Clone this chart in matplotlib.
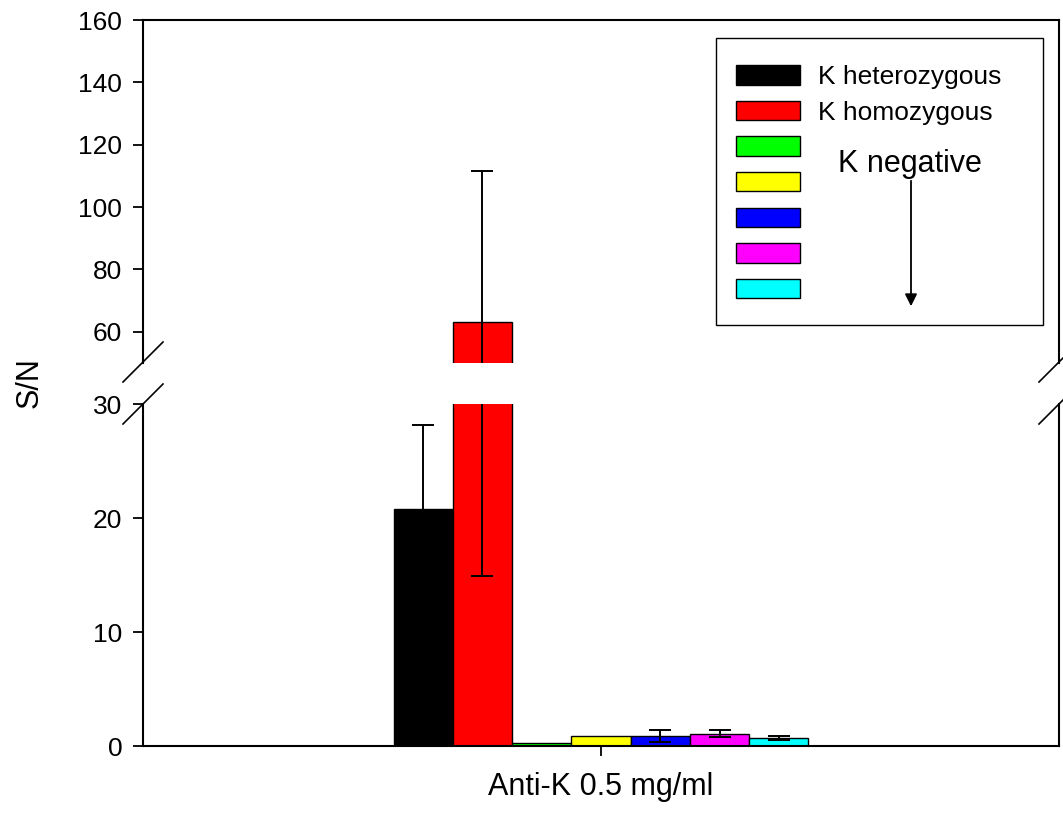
import matplotlib
matplotlib.use("Agg")
import matplotlib.pyplot as plt
from matplotlib.patches import Patch, Rectangle, FancyArrowPatch
from matplotlib.lines import Line2D
import numpy as np

plt.rcParams['font.family'] = ['Liberation Sans', 'DejaVu Sans']

# data
group_label = "Anti-K 0.5 mg/ml"
series = ["K heterozygous", "K homozygous", "neg 1", "neg 2", "neg 3", "neg 4", "neg 5"]
means = [20.8, 63.2, 0.30, 0.85, 0.85, 1.07, 0.72]
errors = [7.4, 48.3, 0.0, 0.0, 0.52, 0.30, 0.17]
colors = ["#000000", "#ff0000", "#00ff00", "#ffff00", "#0000ff", "#ff00ff", "#00ffff"]
upper_ticks = [60, 80, 100, 120, 140, 160]
lower_ticks = [0, 10, 20, 30]

W, H = 1063, 814
fig = plt.figure(figsize=(W / 100, H / 100), dpi=100)

left, right = 143 / W, 1059 / W
ax_top = fig.add_axes([left, 1 - 363 / H, right - left, (363 - 20) / H])
ax_bot = fig.add_axes([left, 1 - 746 / H, right - left, (746 - 404) / H])

n = len(means)
bw = 0.0647
xs = (np.arange(n) - (n - 1) / 2) * bw

for ax in (ax_top, ax_bot):
    ax.bar(xs, means, width=bw, color=colors, edgecolor="black", linewidth=1.0)
    m = np.array(errors) > 0
    ax.errorbar(xs[m], np.array(means)[m], yerr=np.array(errors)[m], fmt="none",
                ecolor="black", elinewidth=1.4, capsize=8, capthick=1.4)
    ax.set_xlim(-0.5, 0.5)
    for s in ax.spines.values():
        s.set_linewidth(1.5)
    ax.tick_params(axis="y", direction="out", length=7, width=1.3, labelsize=19, pad=8)

ax_top.set_ylim(50, 160)
ax_top.set_yticks(upper_ticks)
ax_top.spines.bottom.set_visible(False)
ax_top.set_xticks([])

ax_bot.set_ylim(0, 30)
ax_bot.set_yticks(lower_ticks)
ax_bot.spines.top.set_visible(False)
ax_bot.set_xticks([0])
ax_bot.set_xticklabels([""])
ax_bot.tick_params(axis="x", direction="out", length=7, width=1.3)
ax_bot.set_xlabel(group_label, fontsize=22, labelpad=8)

fig.text(30 / W, 1 - 383 / H, "S/N", rotation=90, ha="center", va="center", fontsize=22)

# axis break marks
dx, dy = 20 / W, 20 / H
for xb in (left, right):
    for yb in (1 - 362 / H, 1 - 404 / H):
        fig.add_artist(Line2D([xb - dx, xb + dx], [yb - dy, yb + dy],
                              transform=fig.transFigure, color="black", linewidth=1.2))

# legend
handles = [Patch(facecolor=c, edgecolor="black", linewidth=1.0) for c in colors]
labels = [series[0], series[1], "", "", "", "", ""]
leg = ax_top.legend(handles, labels, loc="upper left", bbox_to_anchor=(716 / W, 1 - 45 / H),
                    bbox_transform=fig.transFigure, fontsize=19, frameon=False,
                    borderpad=0.76, handlelength=2.42, handleheight=0.76,
                    labelspacing=0.44, handletextpad=0.68, borderaxespad=0)
fig.add_artist(Rectangle((716 / W, 1 - 325 / H), (1043 - 716) / W, (325 - 38) / H,
                         transform=fig.transFigure, fill=False, edgecolor="black", linewidth=1.0))

fig.text(910 / W, 1 - 164 / H, "K negative", ha="center", va="center", fontsize=22)
fig.add_artist(FancyArrowPatch((911 / W, 1 - 178 / H), (911 / W, 1 - 309 / H),
                               transform=fig.transFigure, arrowstyle="-|>",
                               mutation_scale=18, color="black", linewidth=1.3))

plt.savefig("out.png", dpi=100)
